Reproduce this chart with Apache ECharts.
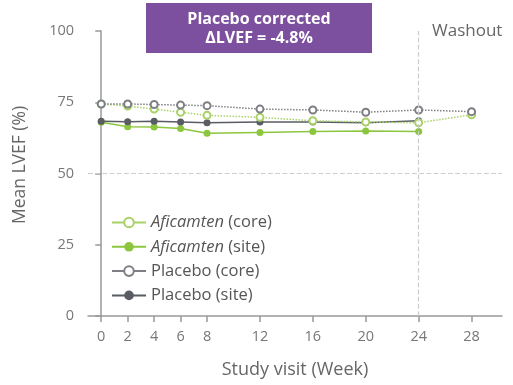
<!DOCTYPE html>
<html>
<head>
<meta charset="utf-8">
<script src="https://cdn.jsdelivr.net/npm/echarts@6/dist/echarts.min.js"></script>
<style>
  html, body { margin: 0; padding: 0; background: #fff; }
  #chart { width: 513px; height: 385px; }
</style>
</head>
<body>
<div id="chart"></div>
<script>
// 数据
let weeks = [0, 2, 4, 6, 8, 12, 16, 20, 24, 28];
let xTicks = [0, 2, 4, 6, 8, 12, 16, 20, 24, 28];
let aficamtenCore = [74.4, 73.7, 72.6, 71.5, 70.4, 69.7, 68.5, 68.1, 67.8, 70.6];
let aficamtenSite = [68.0, 66.4, 66.3, 65.8, 64.1, 64.4, 64.7, 64.9, 64.7, null];
let placeboCore = [74.4, 74.4, 74.2, 74.0, 73.8, 72.6, 72.3, 71.5, 72.3, 71.7];
let placeboSite = [68.3, 68.2, 68.3, 68.1, 67.8, 68.1, 68.1, 67.8, 68.5, null];

function pairs(vals) {
    let out = [];
    for (let i in weeks) {
        if (vals[i] != null) out.push([weeks[i], vals[i]]);
    }
    return out;
}

let font = 'Open Sans';

function lineSeries(name, vals, color, open, dotted) {
    return {
        name: name,
        type: 'line',
        data: pairs(vals),
        symbol: open ? 'emptyCircle' : 'circle',
        symbolSize: 7,
        itemStyle: { color: color, borderColor: color, borderWidth: open ? 1.5 : 0 },
        lineStyle: { color: color, width: 1.5, type: dotted ? 'dotted' : 'solid' },
        z: open ? 3 : 2
    };
}

let option = {
    animation: false,
    grid: { left: 88, right: 11, top: 31, bottom: 69 },
    xAxis: {
        type: 'value',
        min: -1,
        max: 30.3,
        name: 'Study visit (Week)',
        nameLocation: 'middle',
        nameGap: 45,
        nameTextStyle: { fontFamily: font, fontSize: 18, color: '#666' },
        axisLine: { show: true, lineStyle: { color: '#999', width: 1.5 } },
        axisTick: { show: true, length: 6, customValues: xTicks, lineStyle: { color: '#999', width: 1.5 } },
        axisLabel: { customValues: xTicks, fontFamily: font, fontSize: 14.5, color: '#777', margin: 13 },
        splitLine: { show: false }
    },
    yAxis: {
        type: 'value',
        min: 0,
        max: 100,
        interval: 25,
        axisLine: { show: true, lineStyle: { color: '#999', width: 1.5 } },
        axisTick: { show: true, length: 6, lineStyle: { color: '#999', width: 1.5 } },
        axisLabel: { fontFamily: font, fontSize: 14.5, color: '#777', margin: 14 },
        splitLine: { show: false }
    },
    legend: {
        orient: 'vertical',
        left: 106,
        top: 209,
        itemWidth: 34,
        itemHeight: 12,
        itemGap: 7.3,
        lineStyle: { type: 'solid' },
        textStyle: { fontFamily: font, fontSize: 16.5, color: '#555', lineHeight: 16,
            rich: { i: { fontStyle: 'italic', fontFamily: font, fontSize: 16.5, color: '#555', lineHeight: 16 } } },
        formatter: function (name) {
            if (name.indexOf('Aficamten') === 0) {
                return '{i|Aficamten}' + name.slice(9);
            }
            return name;
        },
        data: ['Aficamten (core)', 'Aficamten (site)', 'Placebo (core)', 'Placebo (site)']
    },
    series: [
        lineSeries('Aficamten (core)', aficamtenCore, '#a8d267', true, true),
        lineSeries('Aficamten (site)', aficamtenSite, '#8cc63f', false, false),
        lineSeries('Placebo (core)', placeboCore, '#7d7f84', true, true),
        lineSeries('Placebo (site)', placeboSite, '#595c63', false, false),
        {
            type: 'line',
            data: [],
            silent: true,
            markLine: {
                symbol: 'none',
                silent: true,
                label: { show: false },
                lineStyle: { color: '#ccc', type: 'dashed', width: 1.2 },
                data: [{ yAxis: 50 }, { xAxis: 24 }]
            }
        }
    ],
    graphic: [
        {
            type: 'text',
            x: 20, y: 165,
            rotation: Math.PI / 2,
            style: {
                text: 'Mean LVEF (%)',
                fill: '#666',
                font: '17.5px "Open Sans"',
                align: 'center',
                verticalAlign: 'middle'
            }
        },
        {
            type: 'rect',
            shape: { x: 146, y: 3, width: 226, height: 50 },
            style: { fill: '#7d509f' }
        },
        {
            type: 'text',
            x: 259, y: 29,
            style: {
                text: 'Placebo corrected\nΔLVEF = -4.8%',
                fill: '#fff',
                font: 'bold 16px "Open Sans"',
                align: 'center',
                verticalAlign: 'middle',
                lineHeight: 19
            }
        },
        {
            type: 'text',
            x: 432, y: 31,
            style: {
                text: 'Washout',
                fill: '#666',
                font: '17px "Open Sans"',
                verticalAlign: 'middle'
            }
        }
    ]
};

let chart = echarts.init(document.getElementById('chart'));
chart.setOption(option);
</script>
</body>
</html>
